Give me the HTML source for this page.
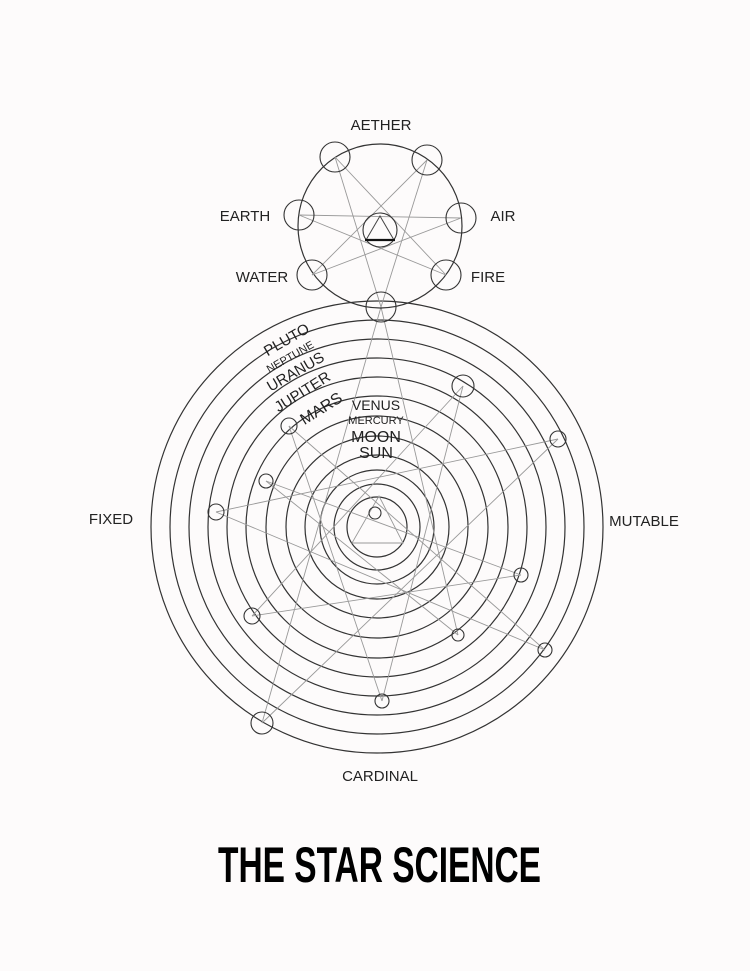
<!DOCTYPE html>
<html><head><meta charset="utf-8"><style>
html,body{margin:0;padding:0;background:#fdfbfb;}
svg{display:block;}
text{font-family:"Liberation Sans",sans-serif;fill:#222;}
</style></head><body>
<svg width="750" height="971" viewBox="0 0 750 971" xmlns="http://www.w3.org/2000/svg">
<rect width="750" height="971" fill="#fdfbfb"/>
<g fill="none" stroke="#333" stroke-width="1.2">
<circle cx="377" cy="527" r="226"/>
<circle cx="377" cy="527" r="207"/>
<circle cx="377" cy="527" r="188"/>
<circle cx="377" cy="527" r="169"/>
<circle cx="377" cy="527" r="150"/>
<circle cx="377" cy="527" r="131"/>
<circle cx="377" cy="527" r="111"/>
<circle cx="377" cy="527" r="91"/>
<circle cx="377" cy="527" r="72"/>
<circle cx="377" cy="527" r="57"/>
<circle cx="377" cy="527" r="43"/>
<circle cx="377" cy="527" r="30"/>
</g>
<g stroke="#999" stroke-width="0.9" fill="none">
<line x1="382" y1="701" x2="289" y2="426"/>
<line x1="382" y1="701" x2="463" y2="386"/>
<line x1="381" y1="307" x2="262" y2="723"/>
<line x1="381" y1="307" x2="458" y2="635"/>
<line x1="262" y1="723" x2="558" y2="439"/>
<line x1="558" y1="439" x2="216" y2="512"/>
<line x1="216" y1="512" x2="545" y2="650"/>
<line x1="545" y1="650" x2="289" y2="426"/>
<line x1="252" y1="616" x2="521" y2="575"/>
<line x1="266" y1="481" x2="521" y2="575"/>
<line x1="463" y1="386" x2="252" y2="616"/>
<line x1="458" y1="635" x2="266" y2="481"/>
<polygon points="379,496 352,543 403,543"/>
</g>
<g fill="none" stroke="#333" stroke-width="1.1">
<circle cx="375" cy="513" r="6"/>
<circle cx="463" cy="386" r="11"/>
<circle cx="558" cy="439" r="8"/>
<circle cx="521" cy="575" r="7"/>
<circle cx="545" cy="650" r="7"/>
<circle cx="458" cy="635" r="6"/>
<circle cx="382" cy="701" r="7"/>
<circle cx="262" cy="723" r="11"/>
<circle cx="252" cy="616" r="8"/>
<circle cx="216" cy="512" r="8"/>
<circle cx="266" cy="481" r="7"/>
<circle cx="289" cy="426" r="8"/>
</g>
<circle cx="380" cy="226" r="82" fill="none" stroke="#333" stroke-width="1.2"/>
<g stroke="#999" stroke-width="0.9" fill="none">
<line x1="335" y1="157" x2="446" y2="275"/>
<line x1="446" y1="275" x2="299" y2="215"/>
<line x1="299" y1="215" x2="461" y2="218"/>
<line x1="461" y1="218" x2="312" y2="275"/>
<line x1="312" y1="275" x2="427" y2="160"/>
<line x1="427" y1="160" x2="381" y2="307"/>
<line x1="381" y1="307" x2="335" y2="157"/>
</g>
<g fill="none" stroke="#333" stroke-width="1.1">
<circle cx="335" cy="157" r="15"/>
<circle cx="427" cy="160" r="15"/>
<circle cx="299" cy="215" r="15"/>
<circle cx="461" cy="218" r="15"/>
<circle cx="312" cy="275" r="15"/>
<circle cx="446" cy="275" r="15"/>
<circle cx="381" cy="307" r="15"/>
<circle cx="380" cy="230" r="17"/>
<polygon points="380,216 366,240 394,240" stroke="#444" stroke-width="1"/>
<line x1="365" y1="240" x2="395" y2="240" stroke="#111" stroke-width="2.2"/>
</g>
<g font-size="15" text-anchor="middle">
<text x="381" y="130">AETHER</text>
<text x="245" y="221">EARTH</text>
<text x="503" y="221">AIR</text>
<text x="262" y="282">WATER</text>
<text x="488" y="282">FIRE</text>
<text x="111" y="524">FIXED</text>
<text x="644" y="526">MUTABLE</text>
<text x="380" y="781">CARDINAL</text>
</g>
<g text-anchor="middle">
<text x="376" y="410" font-size="14">VENUS</text>
<text x="376" y="424" font-size="11">MERCURY</text>
<text x="376" y="442" font-size="16">MOON</text>
<text x="376" y="458" font-size="16">SUN</text>
<text font-size="15" transform="translate(289,344) rotate(-30)">PLUTO</text>
<text font-size="11" transform="translate(292,360) rotate(-30)">NEPTUNE</text>
<text font-size="15" transform="translate(298,376) rotate(-30)">URANUS</text>
<text font-size="15" transform="translate(305,396) rotate(-32)">JUPITER</text>
<text font-size="16" transform="translate(324,413) rotate(-32)">MARS</text>
</g>
<text x="218" y="882" font-family="'Liberation Sans Narrow','Liberation Sans',sans-serif" font-weight="bold" font-size="50" textLength="323" lengthAdjust="spacingAndGlyphs" style="fill:#000">THE STAR SCIENCE</text>
</svg>
</body></html>
